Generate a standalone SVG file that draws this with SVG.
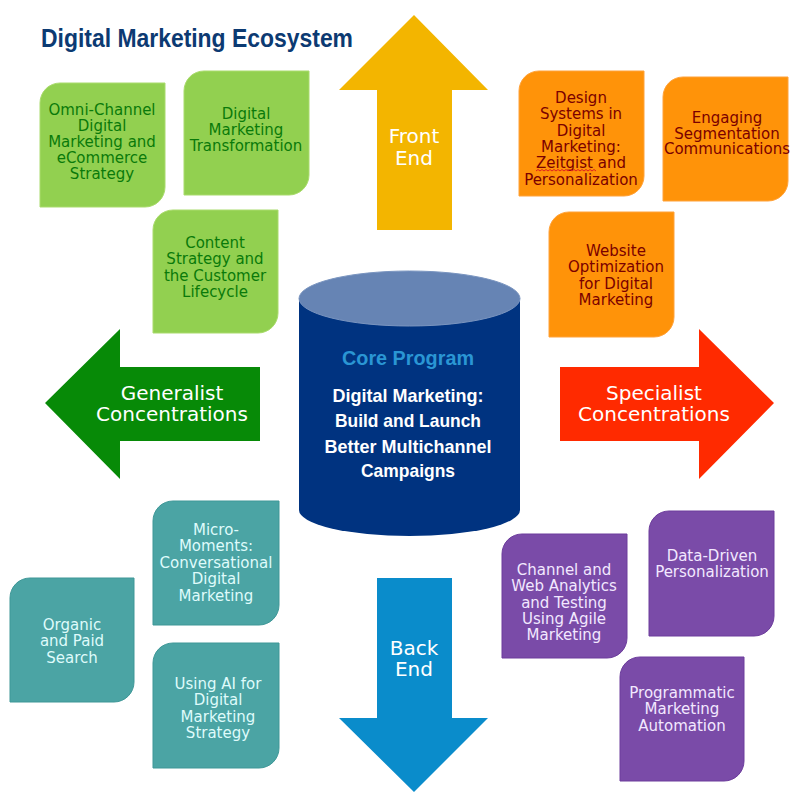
<svg xmlns="http://www.w3.org/2000/svg" width="800" height="800" viewBox="0 0 800 800">
<style>
.t{font-family:"DejaVu Sans",Verdana,sans-serif;font-size:15px;text-anchor:middle}
.g{fill:#92D050;stroke:#A9DB6C;stroke-width:1}
.gt{fill:#0A7A0A}
.o{fill:#FF9309;stroke:#FFA23A;stroke-width:1}
.ot{fill:#7A0000}
.c{fill:#4BA4A4;stroke:#3E9797;stroke-width:1}
.ct{fill:#DFFBFB}
.p{fill:#7A4BA8;stroke:#6C3C9C;stroke-width:1}
.pt{fill:#F2E8FF}
.at{font-family:"DejaVu Sans",Verdana,sans-serif;font-size:20px;fill:#FFFFFF;text-anchor:middle}
.cond{font-family:"Liberation Sans",Arial,sans-serif;font-weight:bold;text-anchor:middle}
</style>
<rect width="800" height="800" fill="#FFFFFF"/>
<text x="41" y="47" font-family="Liberation Sans, Arial, sans-serif" font-weight="bold" font-size="26" fill="#0C3A72" textLength="312" lengthAdjust="spacingAndGlyphs">Digital Marketing Ecosystem</text>

<g id="connectors">
<g id="arrow-front"><path d="M414,15 L488,90 H452 V230 H377 V90 H339 Z" fill="#F3B500"/>
<text class="at" x="414" y="143">Front</text><text class="at" x="414" y="165">End</text></g>
<g id="arrow-generalist"><path d="M45,403 L120,329 V367 H260 V441 H120 V479 Z" fill="#078A07"/>
<text class="at" x="172" y="400">Generalist</text><text class="at" x="172" y="421">Concentrations</text></g>
<g id="arrow-specialist"><path d="M774,403 L699,329 V367 H560 V441 H699 V479 Z" fill="#FF2A00"/>
<text class="at" x="654" y="400">Specialist</text><text class="at" x="654" y="421">Concentrations</text></g>
<g id="arrow-back"><path d="M414,792 L488,718 H452 V578 H377 V718 H339 Z" fill="#0A8CCB"/>
<text class="at" x="414" y="655">Back</text><text class="at" x="414" y="676">End</text></g>
</g>

<g id="core">
<path d="M299,298 V510 A110.5,26 0 0 0 520,510 V298 Z" fill="#003380"/>
<ellipse cx="409.5" cy="298.5" rx="110.5" ry="27.5" fill="#6684B4" stroke="#7A95C0" stroke-width="1"/>
<text class="cond" x="408" y="365" font-size="20" fill="#2A96D4" textLength="132" lengthAdjust="spacingAndGlyphs">Core Program</text>
<text class="cond" x="408" y="402" font-size="18.5" fill="#FFFFFF" textLength="151" lengthAdjust="spacingAndGlyphs">Digital Marketing:</text>
<text class="cond" x="408" y="427" font-size="18.5" fill="#FFFFFF" textLength="146" lengthAdjust="spacingAndGlyphs">Build and Launch</text>
<text class="cond" x="408" y="453" font-size="18.5" fill="#FFFFFF" textLength="167" lengthAdjust="spacingAndGlyphs">Better Multichannel</text>
<text class="cond" x="408" y="477" font-size="18.5" fill="#FFFFFF" textLength="94" lengthAdjust="spacingAndGlyphs">Campaigns</text>
</g>

<g id="omni-channel"><path class="g" d="M60,83 H165 V187 A20,20 0 0 1 145,207 H40 V103 A20,20 0 0 1 60,83 Z"/>
<text class="t gt" x="102" y="115">Omni-Channel<tspan x="102" dy="16">Digital</tspan><tspan x="102" dy="16">Marketing and</tspan><tspan x="102" dy="16">eCommerce</tspan><tspan x="102" dy="16">Strategy</tspan></text></g>

<g id="transformation"><path class="g" d="M204,71 H309 V175 A20,20 0 0 1 289,195 H184 V91 A20,20 0 0 1 204,71 Z"/>
<text class="t gt" x="246" y="119">Digital<tspan x="246" dy="16">Marketing</tspan><tspan x="246" dy="16">Transformation</tspan></text></g>

<g id="content-strategy"><path class="g" d="M173,210 H278 V313 A20,20 0 0 1 258,333 H153 V230 A20,20 0 0 1 173,210 Z"/>
<text class="t gt" x="215" y="248">Content<tspan x="215" dy="16.3">Strategy and</tspan><tspan x="215" dy="16.3">the Customer</tspan><tspan x="215" dy="16.3">Lifecycle</tspan></text></g>

<g id="design-systems"><path class="o" d="M539,71 H644 V176 A20,20 0 0 1 624,196 H519 V91 A20,20 0 0 1 539,71 Z"/>
<text class="t ot" x="581" y="103">Design<tspan x="581" dy="16.3">Systems in</tspan><tspan x="581" dy="16.3">Digital</tspan><tspan x="581" dy="16.3">Marketing:</tspan><tspan x="581" dy="16.3">Zeitgist and</tspan><tspan x="581" dy="16.3">Personalization</tspan></text>
<path d="M536,171 l2,-1.5 l2,1.5 l2,-1.5 l2,1.5 l2,-1.5 l2,1.5 l2,-1.5 l2,1.5 l2,-1.5 l2,1.5 l2,-1.5 l2,1.5 l2,-1.5 l2,1.5 l2,-1.5 l2,1.5 l2,-1.5 l2,1.5 l2,-1.5 l2,1.5 l2,-1.5 l2,1.5 l2,-1.5 l2,1.5 l2,-1.5 l2,1.5 l2,-1.5 l2,1.5 l2,-1.5 l2,1.5" fill="none" stroke="#E02020" stroke-width="1"/></g>

<g id="engaging-segmentation"><path class="o" d="M683,77 H788 V181 A20,20 0 0 1 768,201 H663 V97 A20,20 0 0 1 683,77 Z"/>
<text class="t ot" x="727" y="123" font-size="14">Engaging<tspan x="727" dy="15.5">Segmentation</tspan><tspan x="727" dy="15.5">Communications</tspan></text></g>

<g id="website-optimization"><path class="o" d="M569,212 H674 V317 A20,20 0 0 1 654,337 H549 V232 A20,20 0 0 1 569,212 Z"/>
<text class="t ot" x="616" y="256">Website<tspan x="616" dy="16.3">Optimization</tspan><tspan x="616" dy="16.3">for Digital</tspan><tspan x="616" dy="16.3">Marketing</tspan></text></g>

<g id="micro-moments"><path class="c" d="M173,501 H279 V605 A20,20 0 0 1 259,625 H153 V521 A20,20 0 0 1 173,501 Z"/>
<text class="t ct" x="216" y="535">Micro-<tspan x="216" dy="16.4">Moments:</tspan><tspan x="216" dy="16.4" textLength="113" lengthAdjust="spacingAndGlyphs">Conversational</tspan><tspan x="216" dy="16.4">Digital</tspan><tspan x="216" dy="16.4">Marketing</tspan></text></g>

<g id="organic-search"><path class="c" d="M30,578 H134 V682 A20,20 0 0 1 114,702 H10 V598 A20,20 0 0 1 30,578 Z"/>
<text class="t ct" x="72" y="630">Organic<tspan x="72" dy="16.3">and Paid</tspan><tspan x="72" dy="16.3">Search</tspan></text></g>

<g id="using-ai"><path class="c" d="M173,643 H279 V748 A20,20 0 0 1 259,768 H153 V663 A20,20 0 0 1 173,643 Z"/>
<text class="t ct" x="218" y="689">Using AI for<tspan x="218" dy="16.3">Digital</tspan><tspan x="218" dy="16.3">Marketing</tspan><tspan x="218" dy="16.3">Strategy</tspan></text></g>

<g id="channel-analytics"><path class="p" d="M522,534 H627 V638 A20,20 0 0 1 607,658 H502 V554 A20,20 0 0 1 522,534 Z"/>
<text class="t pt" x="564" y="575">Channel and<tspan x="564" dy="16.3">Web Analytics</tspan><tspan x="564" dy="16.3">and Testing</tspan><tspan x="564" dy="16.3">Using Agile</tspan><tspan x="564" dy="16.3">Marketing</tspan></text></g>

<g id="data-driven"><path class="p" d="M669,511 H774 V616 A20,20 0 0 1 754,636 H649 V531 A20,20 0 0 1 669,511 Z"/>
<text class="t pt" x="712" y="561">Data-Driven<tspan x="712" dy="16">Personalization</tspan></text></g>

<g id="programmatic"><path class="p" d="M640,657 H744 V761 A20,20 0 0 1 724,781 H620 V677 A20,20 0 0 1 640,657 Z"/>
<text class="t pt" x="682" y="698">Programmatic<tspan x="682" dy="16.3">Marketing</tspan><tspan x="682" dy="16.3">Automation</tspan></text></g>
</svg>
